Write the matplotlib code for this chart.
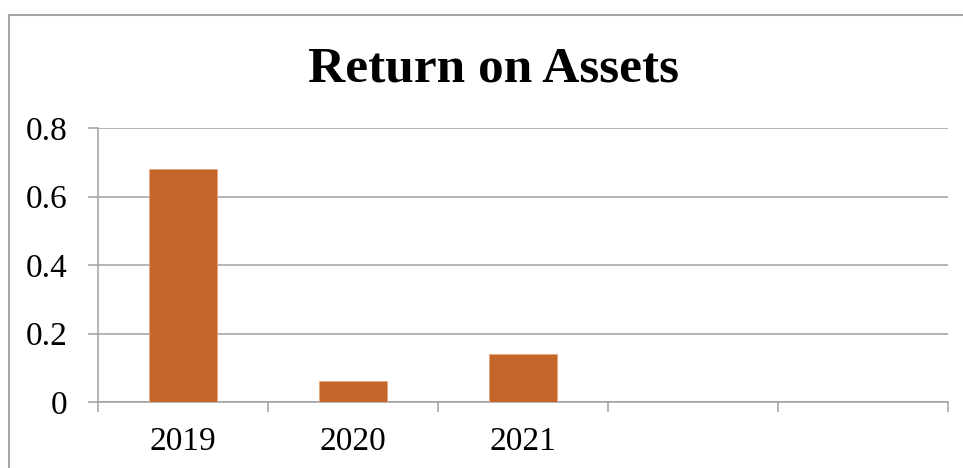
import matplotlib
matplotlib.use("Agg")
import matplotlib.pyplot as plt
from matplotlib.patches import Rectangle

categories = ["2019", "2020", "2021", "", ""]
values = [0.68, 0.06, 0.14, None, None]
yticks = [0, 0.2, 0.4, 0.6, 0.8]
ytick_labels = ["0", "0.2", "0.4", "0.6", "0.8"]

BAR, GRID, BORDER = "#C4652A", "#A0A0A0", "#A6A6A6"
W, H = 963, 468

plt.rcParams["font.family"] = ["Liberation Serif", "DejaVu Serif"]

fig = plt.figure(figsize=(W / 100, H / 100), dpi=100)
fig.patch.set_facecolor("white")

# outer chart frame (runs off the right and bottom edges)
fig.patches.append(Rectangle((9 / W, -0.1), 1.2, 1 - 15 / H + 0.1, transform=fig.transFigure,
                             fill=False, edgecolor=BORDER, lw=1.5))

ax = fig.add_axes([98 / W, 1 - 402 / H, 850 / W, 274 / H])
xs = list(range(len(categories)))
for x, v in zip(xs, values):
    if v is not None:
        ax.bar(x, v, width=0.4, color=BAR, edgecolor="#E8A87C", lw=0.6, zorder=3)

ax.set_xlim(-0.5, len(categories) - 0.5)
ax.set_ylim(0, 0.8)
ax.set_yticks(yticks)
ax.set_yticklabels(ytick_labels, fontsize=24)
ax.yaxis.grid(True, color=GRID, lw=1.1, zorder=0)
ax.tick_params(axis="y", length=7.2, width=1.1, color=GRID, pad=14.5)

# boundaries between categories carry the ticks, labels sit in the middle
ax.set_xticks([x - 0.5 for x in xs] + [xs[-1] + 0.5])
ax.set_xticklabels([])
ax.set_xticks(xs, minor=True)
ax.set_xticklabels(categories, minor=True, fontsize=24)
ax.tick_params(axis="x", which="major", length=7.2, width=1.1, color=GRID)
ax.tick_params(axis="x", which="minor", length=0, pad=18)

for s in ("top", "right"):
    ax.spines[s].set_visible(False)
for s in ("left", "bottom"):
    ax.spines[s].set_color(GRID)
    ax.spines[s].set_linewidth(1.1)

fig.text(493 / W, 1 - 82 / H, "Return on Assets", ha="center", va="baseline",
         fontsize=37, fontweight="bold")

fig.savefig("out.png", dpi=100, facecolor="white")
